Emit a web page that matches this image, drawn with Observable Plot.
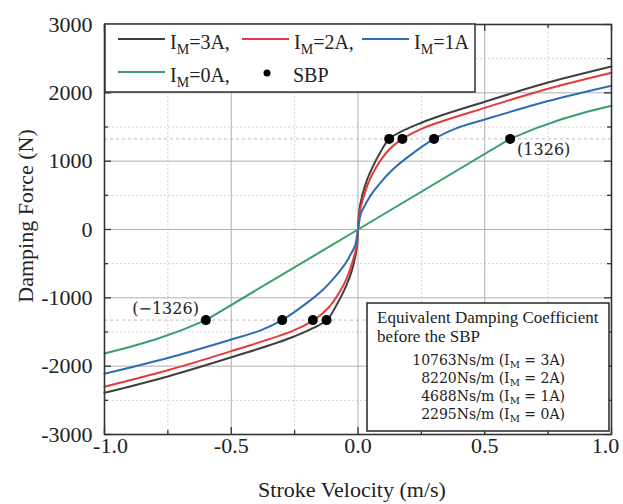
<!DOCTYPE html>
<html>
<head>
<meta charset="utf-8">
<script src="https://cdn.jsdelivr.net/npm/d3@7"></script>
<script src="https://cdn.jsdelivr.net/npm/@observablehq/plot@0.6"></script>
<style>
  html, body { margin: 0; padding: 0; background: #fff; }
  svg { display: block; }
</style>
</head>
<body>
<div id="chart"></div>
<script>
// ---------- data ----------
const seriesNames = ["IM=3A", "IM=2A", "IM=1A", "IM=0A"];
const seriesColors = ["#3f3f3f", "#e5393f", "#2f6db3", "#3a9d6b"];

const velocity3A = [-1.0, -0.75, -0.5, -0.255, -0.123, -0.09, -0.057, -0.035, -0.017, -0.004, 0, 0.004, 0.017, 0.035, 0.057, 0.09, 0.123, 0.255, 0.5, 0.75, 1.0];
const force3A    = [-2390, -2150, -1870, -1570, -1326, -1140, -910, -720, -500, -250, 0, 250, 500, 720, 910, 1140, 1326, 1570, 1870, 2150, 2385];

const velocity2A = [-1.0, -0.75, -0.5, -0.255, -0.175, -0.12, -0.07, -0.045, -0.024, -0.006, 0, 0.006, 0.024, 0.045, 0.07, 0.12, 0.175, 0.255, 0.5, 0.75, 1.0];
const force2A    = [-2300, -2060, -1780, -1480, -1326, -1160, -900, -720, -500, -250, 0, 250, 500, 720, 900, 1160, 1326, 1480, 1780, 2060, 2295];

const velocity1A = [-1.0, -0.75, -0.5, -0.387, -0.3, -0.2, -0.135, -0.09, -0.05, -0.03, -0.012, 0, 0.012, 0.03, 0.05, 0.09, 0.135, 0.2, 0.3, 0.387, 0.5, 0.75, 1.0];
const force1A    = [-2110, -1880, -1610, -1480, -1326, -1070, -870, -690, -500, -370, -240, 0, 240, 370, 500, 690, 870, 1070, 1326, 1480, 1610, 1880, 2105];

const velocity0A = [-1.0, -0.9, -0.8, -0.7, -0.6, 0, 0.6, 0.7, 0.8, 0.9, 1.0];
const force0A    = [-1815, -1720, -1610, -1480, -1326, 0, 1326, 1480, 1610, 1720, 1810];

const sbpVelocity = [0.123, 0.175, 0.3, 0.6, -0.124, -0.178, -0.299, -0.6];
const sbpForce    = [1326, 1326, 1326, 1326, -1326, -1326, -1326, -1326];
const sbpLevels   = [1326, -1326];
const sbpLabelText = ["(1326)", "(\u22121326)"];
const sbpLabelVelocity = [0.6, -0.6];

const xMajorTicks = [-1.0, -0.5, 0.0, 0.5, 1.0];
const xMinorTicks = [-0.75, -0.25, 0.25, 0.75];
const yMajorTicks = [-3000, -2000, -1000, 0, 1000, 2000, 3000];
const yMinorTicks = [-2500, -1500, -500, 500, 1500, 2500];

const coefValues = ["10763", "8220", "4688", "2295"];
const coefCurrents = ["3A", "2A", "1A", "0A"];

// ---------- build tables ----------
const seriesArrays = [[velocity3A, force3A], [velocity2A, force2A], [velocity1A, force1A], [velocity0A, force0A]];
const rows = [];
seriesArrays.forEach(([vs, fs], i) => vs.forEach((v, j) => rows.push({series: seriesNames[i], v, f: fs[j]})));
const sbp = sbpVelocity.map((v, i) => ({v, f: sbpForce[i]}));
const sbpLabels = sbpLabelVelocity.map((v, i) => ({v, f: sbpLevels[i], text: sbpLabelText[i]}));

// ---------- layout ----------
const W = 623, H = 504, mL = 104, mR = 12, mT = 24, mB = 70;
const fw = W - mL - mR, fh = H - mT - mB;
const serif = "'Liberation Serif', 'Times New Roman', serif";
const serif2 = "'DejaVu Serif', serif";
const tickColor = "#333";
const hasAxisMarks = typeof Plot.axisX === "function";
const xFmt = d => d.toFixed(1);
const xAxisOpts = {tickSize: 0, tickPadding: 3, tickFormat: xFmt, label: null, fontSize: 22, fill: "#222"};

const axisMarks = hasAxisMarks ? [
  Plot.axisX(xMajorTicks.slice(0, 1), {...xAxisOpts, dx: 6}),
  Plot.axisX(xMajorTicks.slice(1, 4), {...xAxisOpts, dx: 0}),
  Plot.axisX(xMajorTicks.slice(4), {...xAxisOpts, dx: -6}),
  Plot.axisY(yMajorTicks, {tickSize: 0, tickPadding: 12, tickFormat: d => String(d), label: null, fontSize: 22, fill: "#222"})
] : [];

const plot = Plot.plot({
  width: W, height: H,
  marginLeft: mL, marginRight: mR, marginTop: mT, marginBottom: mB,
  style: {fontFamily: serif, fontSize: "22px", color: "#222", background: "#fff"},
  x: {domain: [-1, 1], ticks: xMajorTicks, tickFormat: xFmt, tickSize: 0, tickPadding: 3, label: null},
  y: {domain: [-3000, 3000], ticks: yMajorTicks, tickFormat: d => String(d), tickSize: 0, tickPadding: 12, label: null},
  color: {domain: seriesNames, range: seriesColors},
  marks: [
    Plot.ruleX(xMinorTicks, {stroke: "#d4d4d4", strokeDasharray: "2,2"}),
    Plot.ruleY(yMinorTicks, {stroke: "#d4d4d4", strokeDasharray: "2,2"}),
    Plot.ruleX(xMajorTicks, {stroke: "#b0b0b0"}),
    Plot.ruleY(yMajorTicks, {stroke: "#b0b0b0"}),
    Plot.ruleY(sbpLevels, {stroke: "#bdbdbd", strokeDasharray: "3,3"}),
    Plot.line(rows.filter(d => d.series !== "IM=0A"), {x: "v", y: "f", z: "series", stroke: "series", strokeWidth: 2, curve: "catmull-rom"}),
    Plot.line(rows.filter(d => d.series === "IM=0A"), {x: "v", y: "f", z: "series", stroke: "series", strokeWidth: 2, curve: "linear"}),
    Plot.dot(sbp, {x: "v", y: "f", r: 5, fill: "#000", stroke: "none"}),
    Plot.text(sbpLabels.filter(d => d.f > 0), {x: "v", y: "f", text: "text", dx: 7, dy: 11, textAnchor: "start", fontFamily: serif2, fontSize: 16, fill: "#222"}),
    Plot.text(sbpLabels.filter(d => d.f < 0), {x: "v", y: "f", text: "text", dx: -7, dy: -11, textAnchor: "end", fontFamily: serif2, fontSize: 16, fill: "#222"}),
    Plot.frame({stroke: "#333", strokeWidth: 1.6}),
    // inward ticks on all four sides
    Plot.tickY(yMajorTicks, {insetRight: fw - 7, stroke: tickColor, strokeWidth: 1.3}),
    Plot.tickY(yMajorTicks, {insetLeft: fw - 7, stroke: tickColor, strokeWidth: 1.3}),
    Plot.tickY(yMinorTicks, {insetRight: fw - 4, stroke: tickColor, strokeWidth: 1.3}),
    Plot.tickY(yMinorTicks, {insetLeft: fw - 4, stroke: tickColor, strokeWidth: 1.3}),
    Plot.tickX(xMajorTicks, {insetTop: fh - 7, stroke: tickColor, strokeWidth: 1.3}),
    Plot.tickX(xMajorTicks, {insetBottom: fh - 7, stroke: tickColor, strokeWidth: 1.3}),
    Plot.tickX(xMinorTicks, {insetTop: fh - 4, stroke: tickColor, strokeWidth: 1.3}),
    Plot.tickX(xMinorTicks, {insetBottom: fh - 4, stroke: tickColor, strokeWidth: 1.3}),
    ...axisMarks
  ]
});

document.getElementById("chart").appendChild(plot);

// ---------- overlays: titles, legend, annotation box ----------
const svg = d3.select(plot);
const colorOf = name => plot.scale("color").apply(name);

svg.append("text")
  .attr("transform", "translate(28,216) rotate(-90)")
  .attr("text-anchor", "middle").attr("dominant-baseline", "middle")
  .attr("font-family", serif).attr("font-size", 22).attr("fill", "#222")
  .text("Damping Force (N)");

svg.append("text")
  .attr("x", 352).attr("y", 497)
  .attr("text-anchor", "middle")
  .attr("font-family", serif).attr("font-size", 22).attr("fill", "#222")
  .text("Stroke Velocity (m/s)");

function subLabel(g, x, y, pre, sub, post, opts) {
  const t = g.append("text").attr("x", x).attr("y", y)
    .attr("text-anchor", opts.anchor || "start")
    .attr("font-family", opts.family).attr("font-size", opts.size).attr("fill", "#222");
  t.append("tspan").text(pre);
  t.append("tspan").attr("dy", opts.shift).attr("font-size", opts.subSize).text(sub);
  t.append("tspan").attr("dy", -opts.shift).text(post);
  return t;
}

// legend
const leg = svg.append("g");
leg.append("rect").attr("x", 105).attr("y", 24).attr("width", 370).attr("height", 68)
  .attr("fill", "#fff").attr("stroke", "#333").attr("stroke-width", 1.5);
const legItems = [
  {name: "IM=3A", x: 118, y: 39, label: "=3A,"},
  {name: "IM=2A", x: 242, y: 39, label: "=2A,"},
  {name: "IM=1A", x: 362, y: 39, label: "=1A"},
  {name: "IM=0A", x: 118, y: 72, label: "=0A,"}
];
legItems.forEach(it => {
  leg.append("line").attr("x1", it.x).attr("x2", it.x + 47).attr("y1", it.y).attr("y2", it.y)
    .attr("stroke", colorOf(it.name)).attr("stroke-width", 2);
  subLabel(leg, it.x + 52, it.y + 10, "I", "M", it.label, {family: serif, size: 20, subSize: 14, shift: 5});
});
leg.append("circle").attr("cx", 267).attr("cy", 73).attr("r", 3.5).attr("fill", "#000");
leg.append("text").attr("x", 293).attr("y", 82).attr("text-anchor", "start")
  .attr("font-family", serif).attr("font-size", 20).attr("fill", "#222").text("SBP");

// annotation box
const ann = svg.append("g");
ann.append("rect").attr("x", 367).attr("y", 303).attr("width", 242).attr("height", 128)
  .attr("fill", "#fff").attr("stroke", "#333").attr("stroke-width", 1.6);
ann.append("text").attr("x", 377).attr("y", 323).attr("text-anchor", "start")
  .attr("font-family", serif).attr("font-size", 17).attr("fill", "#222")
  .text("Equivalent Damping Coefficient");
ann.append("text").attr("x", 377).attr("y", 342).attr("text-anchor", "start")
  .attr("font-family", serif).attr("font-size", 17).attr("fill", "#222")
  .text("before the SBP");
coefValues.forEach((c, i) => {
  subLabel(ann, 565, 365 + i * 18, c + "Ns/m (I", "M", " = " + coefCurrents[i] + ")",
    {family: serif2, size: 14, subSize: 10, shift: 3, anchor: "end"});
});
</script>
</body>
</html>
